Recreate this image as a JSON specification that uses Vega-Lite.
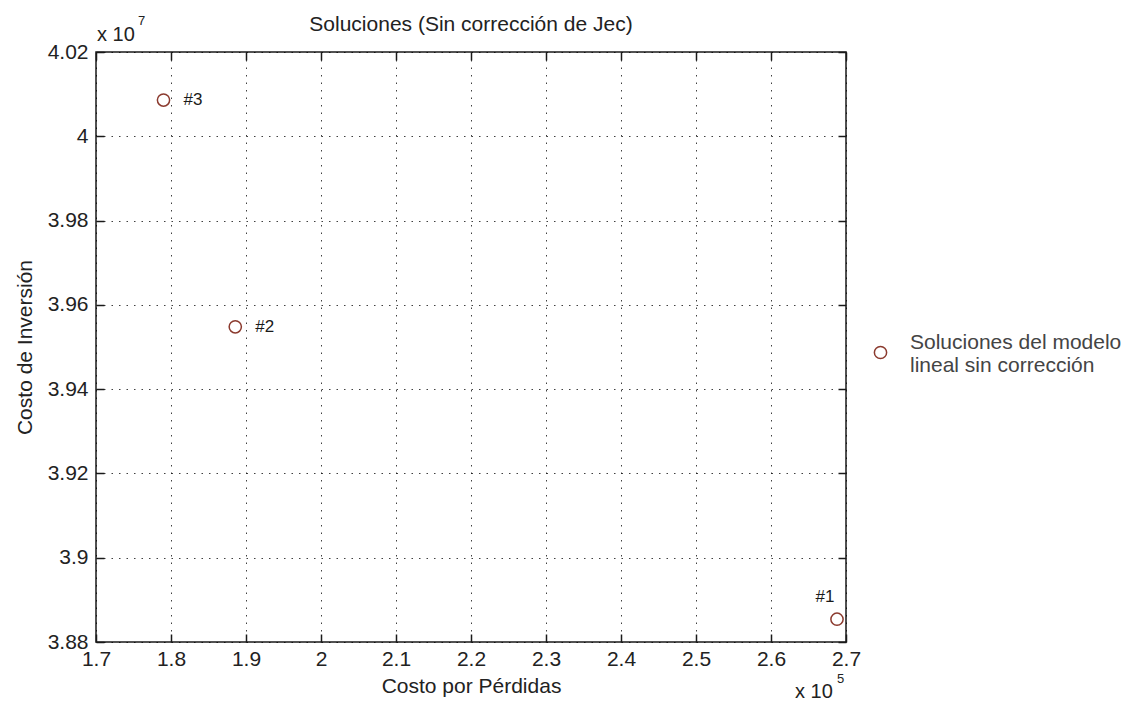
{
  "$schema": "https://vega.github.io/schema/vega-lite/v6.json",
  "width": 750,
  "height": 590,
  "autosize": "none",
  "padding": {"left": 96, "top": 52, "right": 298, "bottom": 70},
  "background": "white",
  "config": {
    "font": "Liberation Sans",
    "view": {"stroke": "#1a1a1a", "strokeWidth": 1.5}
  },
  "title": {
    "text": "Soluciones (Sin corrección de Jec)",
    "fontSize": 21,
    "fontWeight": "normal",
    "color": "#222222",
    "anchor": "middle",
    "offset": -20
  },
  "data": {
    "values": [
      {"solucion": "#1", "perdidas": 268800, "inversion": 38854000, "serie": "Soluciones del modelo lineal sin corrección"},
      {"solucion": "#2", "perdidas": 188570, "inversion": 39548000, "serie": "Soluciones del modelo lineal sin corrección"},
      {"solucion": "#3", "perdidas": 179000, "inversion": 40086000, "serie": "Soluciones del modelo lineal sin corrección"}
    ]
  },
  "resolve": {"axis": {"x": "independent", "y": "independent"}},
  "layer": [
    {
      "mark": {"type": "point", "shape": "circle", "filled": false, "size": 150, "strokeWidth": 1.5, "opacity": 1},
      "encoding": {
        "x": {
          "field": "perdidas",
          "type": "quantitative",
          "scale": {"domain": [170000, 270000], "nice": false, "zero": false},
          "axis": {
            "orient": "bottom",
            "values": [170000, 180000, 190000, 200000, 210000, 220000, 230000, 240000, 250000, 260000, 270000],
            "labelExpr": "format(datum.value / 100000, '~g')",
            "labelFlush": false,
            "labelOverlap": false,
            "labelFontSize": 21,
            "labelColor": "#222222",
            "labelPadding": 14,
            "domain": false,
            "grid": true,
            "gridColor": "#000000",
            "gridOpacity": 0.75,
            "gridDash": [1.5, 6],
            "gridWidth": 1,
            "ticks": true,
            "tickSize": -8,
            "tickColor": "#1a1a1a",
            "tickWidth": 1.5,
            "title": "Costo por Pérdidas",
            "titleFontSize": 21,
            "titleFontWeight": "normal",
            "titleColor": "#222222",
            "titlePadding": 6
          }
        },
        "y": {
          "field": "inversion",
          "type": "quantitative",
          "scale": {"domain": [38800000, 40200000], "nice": false, "zero": false},
          "axis": {
            "orient": "left",
            "values": [38800000, 39000000, 39200000, 39400000, 39600000, 39800000, 40000000, 40200000],
            "labelExpr": "format(datum.value / 10000000, '~g')",
            "labelFlush": false,
            "labelOverlap": false,
            "labelFontSize": 21,
            "labelColor": "#222222",
            "labelPadding": 16,
            "domain": false,
            "grid": true,
            "gridColor": "#000000",
            "gridOpacity": 0.75,
            "gridDash": [1.5, 6],
            "gridWidth": 1,
            "ticks": true,
            "tickSize": -8,
            "tickColor": "#1a1a1a",
            "tickWidth": 1.5,
            "title": "Costo de Inversión",
            "titleFontSize": 21,
            "titleFontWeight": "normal",
            "titleColor": "#222222",
            "titlePadding": 12
          }
        },
        "color": {
          "field": "serie",
          "type": "nominal",
          "scale": {"range": ["#8b3a2e"]},
          "legend": {
            "title": null,
            "orient": "none",
            "legendX": 774,
            "legendY": 290,
            "padding": 0,
            "symbolType": "circle",
            "symbolSize": 150,
            "symbolStrokeWidth": 1.5,
            "symbolFillColor": "transparent",
            "labelFontSize": 21,
            "labelColor": "#444444",
            "labelLimit": 0,
            "labelOffset": 19,
            "labelBaseline": "bottom",
            "labelExpr": "['Soluciones del modelo', 'lineal sin corrección']"
          }
        }
      }
    },
    {
      "transform": [{"filter": "datum.solucion != '#1'"}],
      "mark": {"type": "text", "align": "left", "baseline": "middle", "dx": 20, "fontSize": 17, "color": "#1a1a1a"},
      "encoding": {
        "x": {
          "field": "perdidas",
          "type": "quantitative",
          "axis": {
            "orient": "top",
            "values": [170000, 180000, 190000, 200000, 210000, 220000, 230000, 240000, 250000, 260000, 270000],
            "labels": false,
            "domain": false,
            "grid": false,
            "tickSize": -8,
            "tickColor": "#1a1a1a",
            "tickWidth": 1.5,
            "title": null
          }
        },
        "y": {
          "field": "inversion",
          "type": "quantitative",
          "axis": {
            "orient": "right",
            "values": [38800000, 39000000, 39200000, 39400000, 39600000, 39800000, 40000000, 40200000],
            "labels": false,
            "domain": false,
            "grid": false,
            "tickSize": -8,
            "tickColor": "#1a1a1a",
            "tickWidth": 1.5,
            "title": null
          }
        },
        "text": {"field": "solucion"}
      }
    },
    {
      "transform": [{"filter": "datum.solucion == '#1'"}],
      "mark": {"type": "text", "align": "center", "baseline": "middle", "dx": -12, "dy": -22, "fontSize": 17, "color": "#1a1a1a"},
      "encoding": {
        "x": {"field": "perdidas", "type": "quantitative", "axis": null},
        "y": {"field": "inversion", "type": "quantitative", "axis": null},
        "text": {"field": "solucion"}
      }
    },
    {
      "data": {"values": [{"t": "x 10"}]},
      "mark": {"type": "text", "align": "left", "baseline": "middle", "dx": 1, "dy": -17, "fontSize": 20, "color": "#222222"},
      "encoding": {
        "x": {"datum": 170000, "type": "quantitative", "axis": null},
        "y": {"datum": 40200000, "type": "quantitative", "axis": null},
        "text": {"field": "t"}
      }
    },
    {
      "data": {"values": [{"t": "7"}]},
      "mark": {"type": "text", "align": "left", "baseline": "middle", "dx": 42, "dy": -31, "fontSize": 13, "color": "#222222"},
      "encoding": {
        "x": {"datum": 170000, "type": "quantitative", "axis": null},
        "y": {"datum": 40200000, "type": "quantitative", "axis": null},
        "text": {"field": "t"}
      }
    },
    {
      "data": {"values": [{"t": "x 10"}]},
      "mark": {"type": "text", "align": "left", "baseline": "middle", "dx": -51, "dy": 50, "fontSize": 20, "color": "#222222"},
      "encoding": {
        "x": {"datum": 270000, "type": "quantitative", "axis": null},
        "y": {"datum": 38800000, "type": "quantitative", "axis": null},
        "text": {"field": "t"}
      }
    },
    {
      "data": {"values": [{"t": "5"}]},
      "mark": {"type": "text", "align": "left", "baseline": "middle", "dx": -9, "dy": 37, "fontSize": 13, "color": "#222222"},
      "encoding": {
        "x": {"datum": 270000, "type": "quantitative", "axis": null},
        "y": {"datum": 38800000, "type": "quantitative", "axis": null},
        "text": {"field": "t"}
      }
    }
  ]
}
